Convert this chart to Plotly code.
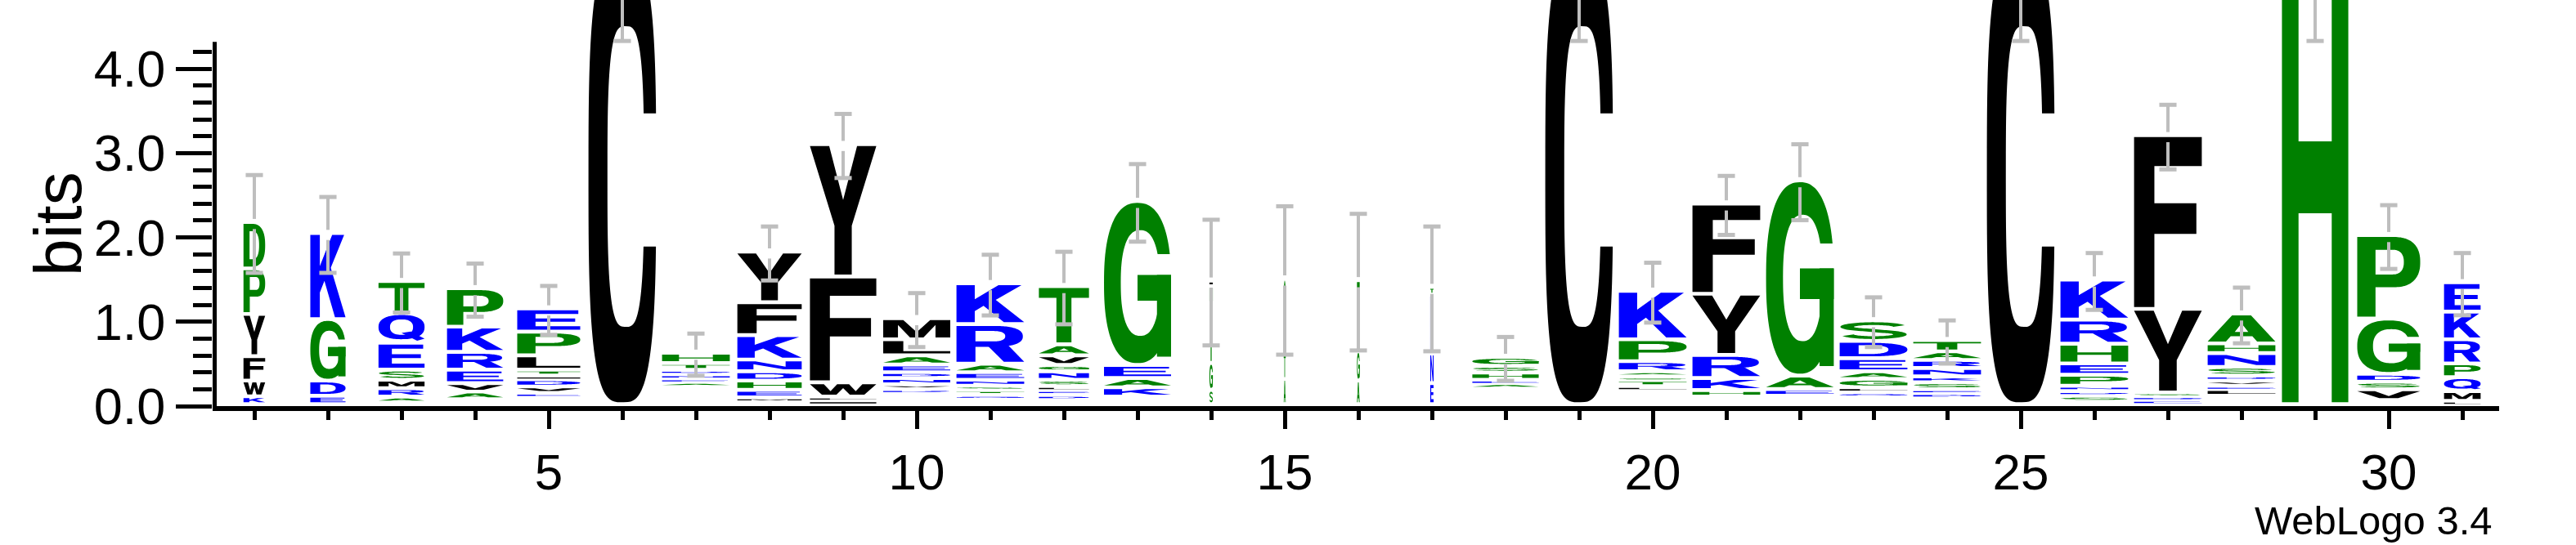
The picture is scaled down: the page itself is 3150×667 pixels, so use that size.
import math
import numpy as np
import plotly.graph_objects as go

# ---------------------------------------------------------------- data
positions = list(range(1, 32))

# relative stack width (fraction of non-gap symbols in the column)
column_width = [0.32, 0.52, 0.68, 0.83, 0.93, 1.00, 1.00, 0.95, 0.98, 0.99,
                1.00, 0.74, 0.99, 0.05, 0.03, 0.04, 0.05, 0.98, 1.00, 1.00,
                1.00, 1.00, 1.00, 1.00, 1.00, 1.00, 1.00, 1.00, 0.98, 0.93, 0.54]

# undrawn share at the foot of each stack (bits)
undrawn_bits = [0.00, 0.00, 0.02, 0.06, 0.09, 0.00, 0.22, 0.035, 0.00, 0.13,
                0.065, 0.05, 0.09, 0.00, 0.00, 0.00, 0.00, 0.185, 0.00, 0.155,
                0.09, 0.10, 0.09, 0.07, 0.00, 0.03, 0.00, 0.10, 0.00, 0.05, 0.00]

# letters of each stack, bottom to top
stack_letters = ["KWFYPD", "EDGK", "ARMSEQT", "AVERKP", "EVDITLPE", "C",
                 "AENDTH", "MEHDNKFY", "ILWFY", "RVNDEALM", "QTSNEARK",
                 "DELSNGVAT", "KAEG", "SGTI", "ATS", "AGT", "ENKT", "AEHSG",
                 "C", "LTSARPK", "HKRYF", "EAG", "QLGAEDS", "DESKNRAT", "C",
                 "SDNPEHRK", "EDSYF", "LEVDSNHA", "H", "VSDGP", "LMQPRKE"]

# letter heights in bits, same order
stack_heights = [
    [0.094, 0.186, 0.29, 0.50, 0.54, 0.55],
    [0.10, 0.18, 0.73, 1.02],
    [0.07, 0.10, 0.10, 0.12, 0.32, 0.35, 0.38],
    [0.09, 0.10, 0.16, 0.21, 0.30, 0.455],
    [0.045, 0.075, 0.085, 0.045, 0.07, 0.17, 0.28, 0.275],
    [5.40],
    [0.043, 0.042, 0.048, 0.054, 0.081, 0.122],
    [0.045, 0.09, 0.11, 0.11, 0.14, 0.29, 0.39, 0.60],
    [0.045, 0.045, 0.17, 1.255, 1.57],
    [0.05, 0.055, 0.075, 0.07, 0.09, 0.11, 0.19, 0.25],
    [0.045, 0.057, 0.053, 0.07, 0.09, 0.10, 0.47, 0.485],
    [0.06, 0.057, 0.048, 0.075, 0.10, 0.075, 0.115, 0.13, 0.69],
    [0.11, 0.11, 0.155, 1.945],
    [0.17, 0.32, 0.91, 0.065],
    [0.30, 0.32, 0.87],
    [0.28, 0.35, 0.84],
    [0.25, 0.35, 0.70, 0.09],
    [0.065, 0.04, 0.085, 0.08, 0.105],
    [5.40],
    [0.06, 0.07, 0.045, 0.06, 0.12, 0.26, 0.575],
    [0.077, 0.143, 0.274, 0.726, 1.07],
    [0.08, 0.16, 2.315],
    [0.05, 0.06, 0.10, 0.09, 0.155, 0.205, 0.245],
    [0.06, 0.047, 0.083, 0.07, 0.10, 0.095, 0.102, 0.133],
    [5.40],
    [0.07, 0.056, 0.062, 0.132, 0.134, 0.233, 0.287, 0.474],
    [0.05, 0.045, 0.045, 0.991, 2.059],
    [0.08, 0.038, 0.061, 0.061, 0.103, 0.163, 0.115, 0.354],
    [5.38],
    [0.127, 0.09, 0.093, 0.656, 0.989],
    [0.04, 0.116, 0.164, 0.164, 0.286, 0.328, 0.348],
]

# half-length of the error bar at the top of each stack (bits)
error_bits = [0.58, 0.45, 0.35, 0.315, 0.29, 1.07, 0.25, 0.32, 0.38, 0.32,
              0.36, 0.43, 0.46, 0.745, 0.88, 0.81, 0.74, 0.26, 1.07, 0.355,
              0.35, 0.45, 0.295, 0.256, 1.07, 0.337, 0.383, 0.33, 1.05, 0.378,
              0.369]

y_tick_vals = [0, 1, 2, 3, 4]
y_tick_text = ["0.0", "1.0", "2.0", "3.0", "4.0"]
x_tick_vals = [5, 10, 15, 20, 25, 30]
Y_AXIS_TOP = 4.32

# ---------------------------------------------------------------- style
GREEN = "#008000"
BLUE = "#0000FF"
BLACK = "#000000"
ERR_GREY = "#BEBEBE"
letter_color = {}
for ch in "CFYWMLVI":
    letter_color[ch] = BLACK
for ch in "GPSTAH":
    letter_color[ch] = GREEN
for ch in "KREDQN":
    letter_color[ch] = BLUE
color_override = {(1, "D"): GREEN}

FULL_W = 0.92        # stack width at full occupancy (x units)
PAD = 0.045          # blank under each glyph (bits)
MIN_H = 0.013        # thinnest glyph drawn (bits)
EB_GAP = 0.06        # break in the error bar around the stack top
CAP = 0.117          # half width of error-bar caps
FONT = "Liberation Sans"


# ---------------------------------------------------------------- glyph outlines (unit box)
def sarc(cx, cy, rx, ry, a0, a1, n=2.0, k=64):
    t = np.linspace(a0, a1, k)
    c, s = np.cos(t), np.sin(t)
    e = 2.0 / n
    x = cx + rx * np.sign(c) * np.abs(c) ** e
    y = cy + ry * np.sign(s) * np.abs(s) ** e
    return list(zip(x, y))


def ang(v, n):
    v = max(-1.0, min(1.0, v))
    return math.asin(math.copysign(abs(v) ** (n / 2.0), v))


def c_ring(gap_lo, gap_hi, n, icx, irx, iry):
    t0 = ang((gap_hi - 0.5) / 0.5, n)
    t1 = ang((gap_lo - 0.5) / 0.5, n)
    outer = sarc(0.5, 0.5, 0.5, 0.5, t0, 2 * math.pi + t1, n, 120)
    s0 = ang((gap_hi - 0.5) / iry, n)
    s1 = ang((gap_lo - 0.5) / iry, n)
    inner = sarc(icx, 0.5, irx, iry, 2 * math.pi + s1, s0, n, 100)
    return outer + inner


def rect(x0, y0, x1, y1):
    return [(x0, y0), (x1, y0), (x1, y1), (x0, y1)]


def stroke(pts, tx, ty):
    p = np.array(pts)
    d = np.gradient(p, axis=0)
    nrm = np.stack([-d[:, 1], d[:, 0]], axis=1)
    nrm /= np.linalg.norm(nrm, axis=1, keepdims=True)
    off = nrm * np.array([tx / 2, ty / 2])
    return list(map(tuple, np.vstack([p + off, (p - off)[::-1]])))


H_PI = math.pi / 2
GLYPHS = {
    "A": [[[(0, 0), (0.27, 0), (0.34, 0.2), (0.66, 0.2), (0.73, 0), (1, 0), (0.64, 1), (0.36, 1)],
           [(0.4, 0.37), (0.6, 0.37), (0.5, 0.7)]]],
    "C": [[c_ring(0.345, 0.64, 3.2, 0.55, 0.27, 0.333)]],
    "D": [[[(0, 0), (0.42, 0)] + sarc(0.42, 0.5, 0.58, 0.5, -H_PI, H_PI, 2.4) + [(0, 1)],
           [(0.28, 0.17), (0.42, 0.17)] + sarc(0.42, 0.5, 0.3, 0.33, -H_PI, H_PI, 2.4) + [(0.28, 0.83)]]],
    "E": [[[(0, 0), (1, 0), (1, 0.18), (0.29, 0.18), (0.29, 0.42), (0.92, 0.42), (0.92, 0.58),
            (0.29, 0.58), (0.29, 0.82), (0.97, 0.82), (0.97, 1), (0, 1)]]],
    "F": [[[(0, 0), (0.3, 0), (0.3, 0.43), (0.92, 0.43), (0.92, 0.61), (0.3, 0.61),
            (0.3, 0.83), (1, 0.83), (1, 1), (0, 1)]]],
    "G": [[c_ring(0.40, 0.68, 2.4, 0.54, 0.29, 0.33)],
          [rect(0.5, 0.39, 1.0, 0.55)], [rect(0.79, 0.04, 1.0, 0.55)]],
    "H": [[[(0, 0), (0.25, 0), (0.25, 0.42), (0.75, 0.42), (0.75, 0), (1, 0), (1, 1),
            (0.75, 1), (0.75, 0.58), (0.25, 0.58), (0.25, 1), (0, 1)]]],
    "I": [[rect(0, 0, 1, 1)]],
    "K": [[[(0, 0), (0.27, 0), (0.27, 0.3), (0.4, 0.44), (0.7, 0), (1, 0), (0.58, 0.6),
            (0.96, 1), (0.62, 1), (0.27, 0.62), (0.27, 1), (0, 1)]]],
    "L": [[[(0, 0), (1, 0), (1, 0.18), (0.3, 0.18), (0.3, 1), (0, 1)]]],
    "M": [[[(0, 0), (0.22, 0), (0.22, 0.72), (0.4, 0), (0.6, 0), (0.78, 0.72), (0.78, 0),
            (1, 0), (1, 1), (0.7, 1), (0.5, 0.3), (0.3, 1), (0, 1)]]],
    "N": [[[(0, 0), (0.25, 0), (0.25, 0.65), (0.72, 0), (1, 0), (1, 1), (0.75, 1),
            (0.75, 0.35), (0.28, 1), (0, 1)]]],
    "P": [[[(0, 0), (0.29, 0), (0.29, 0.37), (0.58, 0.37)]
           + sarc(0.58, 0.685, 0.42, 0.315, -H_PI, H_PI, 2.4) + [(0, 1)],
           [(0.29, 0.53), (0.56, 0.53)] + sarc(0.56, 0.685, 0.18, 0.155, -H_PI, H_PI, 2.4)
           + [(0.29, 0.84)]]],
    "Q": [[sarc(0.5, 0.53, 0.5, 0.47, 0, 2 * math.pi, 2.4, 120),
           sarc(0.5, 0.53, 0.25, 0.30, 0, 2 * math.pi, 2.4, 100)],
          [[(0.5, 0.3), (0.7, 0.36), (1.0, 0.08), (0.84, 0.0)]]],
    "R": [[[(0, 0), (0.28, 0), (0.28, 0.42), (0.56, 0.42)]
           + sarc(0.56, 0.71, 0.42, 0.29, -H_PI, H_PI, 2.4) + [(0, 1)],
           [(0.28, 0.57), (0.54, 0.57)] + sarc(0.54, 0.715, 0.18, 0.145, -H_PI, H_PI, 2.4)
           + [(0.28, 0.86)]],
          [[(0.45, 0.47), (0.76, 0.47), (1.0, 0.0), (0.7, 0.0)]]],
    "S": [[stroke(sarc(0.5, 0.725, 0.39, 0.19, math.radians(15), math.radians(250), 2.0, 50)
                  + sarc(0.5, 0.275, 0.39, 0.19, math.radians(70), math.radians(-165), 2.0, 50),
                  0.2, 0.165)]],
    "T": [[[(0.35, 0), (0.65, 0), (0.65, 0.82), (1, 0.82), (1, 1), (0, 1), (0, 0.82), (0.35, 0.82)]]],
    "V": [[[(0, 1), (0.28, 1), (0.5, 0.28), (0.72, 1), (1, 1), (0.65, 0), (0.35, 0)]]],
    "W": [[[(0, 1), (0.21, 1), (0.31, 0.33), (0.41, 1), (0.59, 1), (0.69, 0.33), (0.79, 1),
            (1, 1), (0.82, 0), (0.6, 0), (0.5, 0.62), (0.4, 0), (0.18, 0)]]],
    "Y": [[[(0, 1), (0.29, 1), (0.5, 0.58), (0.71, 1), (1, 1), (0.63, 0.38), (0.63, 0),
            (0.37, 0), (0.37, 0.38)]]],
}

# ---------------------------------------------------------------- letters as path shapes
shapes = []
stack_tops = []
for i, p in enumerate(positions):
    w = FULL_W * column_width[i]
    x0 = p - w / 2
    base = undrawn_bits[i]
    for letter, h in zip(stack_letters[i], stack_heights[i]):
        gh = max(h - PAD, MIN_H)
        y0 = base + h - gh
        col = color_override.get((p, letter), letter_color[letter])
        for part in GLYPHS[letter]:
            path = " ".join(
                "M" + " L".join(f"{x0 + u * w:.4f},{y0 + v * gh:.4f}" for u, v in ring) + " Z"
                for ring in part)
            shapes.append(dict(type="path", xref="x", yref="y", path=path, fillcolor=col,
                               line=dict(width=0), layer="below", fillrule="evenodd"))
        base += h
    stack_tops.append(base)

# y axis line only up to log2(20)
shapes.append(dict(type="line", xref="x", yref="y", x0=0.4611, x1=0.4611, y0=0,
                   y1=Y_AXIS_TOP, line=dict(color=BLACK, width=5), layer="above"))

# ---------------------------------------------------------------- error bars
ex, ey, cx, cy = [], [], [], []
for p, top, e in zip(positions, stack_tops, error_bits):
    ex += [p, p, None, p, p, None]
    ey += [top + e, top + EB_GAP, None, top - EB_GAP, top - e, None]
    cx += [p - CAP, p + CAP, None, p - CAP, p + CAP, None]
    cy += [top + e, top + e, None, top - e, top - e, None]

fig = go.Figure()
fig.add_trace(go.Scatter(x=ex, y=ey, mode="lines", line=dict(color=ERR_GREY, width=4),
                         hoverinfo="skip", showlegend=False))
fig.add_trace(go.Scatter(x=cx, y=cy, mode="lines", line=dict(color=ERR_GREY, width=5),
                         hoverinfo="skip", showlegend=False))

fig.update_layout(
    width=3150, height=667,
    margin=dict(l=260, r=94, t=0, b=170),
    plot_bgcolor="white", paper_bgcolor="white",
    showlegend=False,
    shapes=shapes,
    font=dict(family=FONT, color=BLACK),
    xaxis=dict(range=[0.4333, 31.5], showline=True, linewidth=6, linecolor=BLACK,
               showgrid=False, zeroline=False, ticks="outside", tickvals=x_tick_vals,
               ticklen=22, tickwidth=5, tickcolor=BLACK,
               tickfont=dict(family=FONT, size=62, color=BLACK),
               minor=dict(tickvals=positions, ticks="outside", ticklen=11, tickwidth=5,
                          tickcolor=BLACK, showgrid=False)),
    yaxis=dict(range=[0, 4.816], showline=False, showgrid=False, zeroline=False,
               ticks="outside", tickvals=y_tick_vals, ticktext=y_tick_text,
               ticklen=44, tickwidth=5, tickcolor=BLACK,
               tickfont=dict(family=FONT, size=63, color=BLACK),
               minor=dict(tickvals=[round(0.2 * k, 1) for k in range(1, 22) if k % 5],
                          ticks="outside", ticklen=23, tickwidth=5, tickcolor=BLACK,
                          showgrid=False)),
    annotations=[
        dict(text="bits", xref="paper", yref="y", x=-0.068, y=Y_AXIS_TOP / 2,
             xanchor="center", yanchor="middle", textangle=-90, showarrow=False,
             font=dict(family=FONT, size=82, color=BLACK)),
        dict(text="WebLogo 3.4", xref="paper", yref="paper", x=0.9975, y=-0.282,
             xanchor="right", yanchor="middle", showarrow=False, borderpad=0,
             font=dict(family=FONT, size=49, color=BLACK)),
    ],
)

fig.write_html("out.html", config={"displayModeBar": False},
               post_script="document.body.style.margin='0px';")
